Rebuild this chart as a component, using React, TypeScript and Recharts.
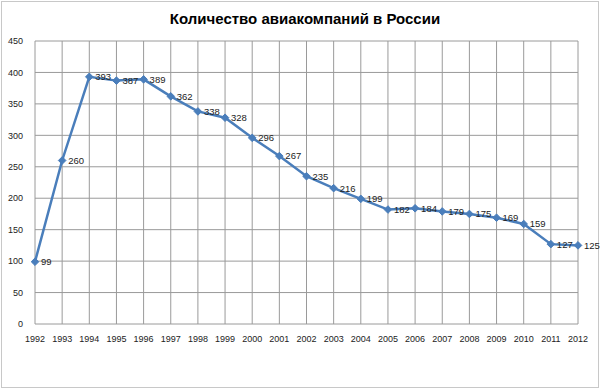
import { LineChart, Line, XAxis, YAxis, CartesianGrid, LabelList } from "recharts";

const years = [
  1992, 1993, 1994, 1995, 1996, 1997, 1998, 1999, 2000, 2001, 2002, 2003,
  2004, 2005, 2006, 2007, 2008, 2009, 2010, 2011, 2012,
];
const airlines = [
  99, 260, 393, 387, 389, 362, 338, 328, 296, 267, 235, 216, 199, 182, 184,
  179, 175, 169, 159, 127, 125,
];
const yTicks = [0, 50, 100, 150, 200, 250, 300, 350, 400, 450];

const data = years.map((year, i) => ({ year, value: airlines[i] }));

const Diamond = (props: any) => {
  const { cx, cy } = props;
  if (cx == null || cy == null) return null;
  const r = 3.8;
  return (
    <polygon
      points={`${cx},${cy - r} ${cx + r},${cy} ${cx},${cy + r} ${cx - r},${cy}`}
      fill="#4a7ebb"
      stroke="#4a7ebb"
    />
  );
};

const App = () => {
  return (
    <div
      style={{
        position: "fixed",
        left: 0,
        top: 0,
        width: 600,
        height: 389,
        background: "#fff",
        fontFamily: "'Liberation Sans', Arial, sans-serif",
      }}
    >
      <div
        style={{
          position: "absolute",
          left: 1,
          top: 1,
          width: 596,
          height: 385,
          border: "1px solid #c8c8c8",
        }}
      />
      <div
        style={{
          position: "absolute",
          top: 10,
          left: 0,
          width: 610,
          textAlign: "center",
          fontSize: 15,
          fontWeight: "bold",
          color: "#000",
        }}
      >
        Количество авиакомпаний в России
      </div>
      <LineChart
        width={600}
        height={389}
        data={data}
        margin={{ top: 41, right: 22, bottom: 35, left: 0 }}
      >
        <CartesianGrid stroke="#9a9a9a" strokeWidth={1} />
        <XAxis
          dataKey="year"
          type="number"
          domain={[1992, 2012]}
          ticks={years}
          interval={0}
          height={30}
          axisLine={false}
          tickLine={false}
          tick={{ fontSize: 9, fill: "#222" }}
          tickMargin={6}
        />
        <YAxis
          domain={[0, 450]}
          ticks={yTicks}
          width={35}
          axisLine={false}
          tickLine={false}
          tick={{ fontSize: 9, fill: "#222" }}
          tickMargin={6}
        />
        <Line
          type="linear"
          dataKey="value"
          stroke="#4a7ebb"
          strokeWidth={2.5}
          dot={<Diamond />}
          activeDot={false}
          isAnimationActive={false}
        >
          <LabelList
            dataKey="value"
            position="right"
            offset={6}
            fontSize={9.5}
            fill="#222"
          />
        </Line>
      </LineChart>
    </div>
  );
};

export default App;
